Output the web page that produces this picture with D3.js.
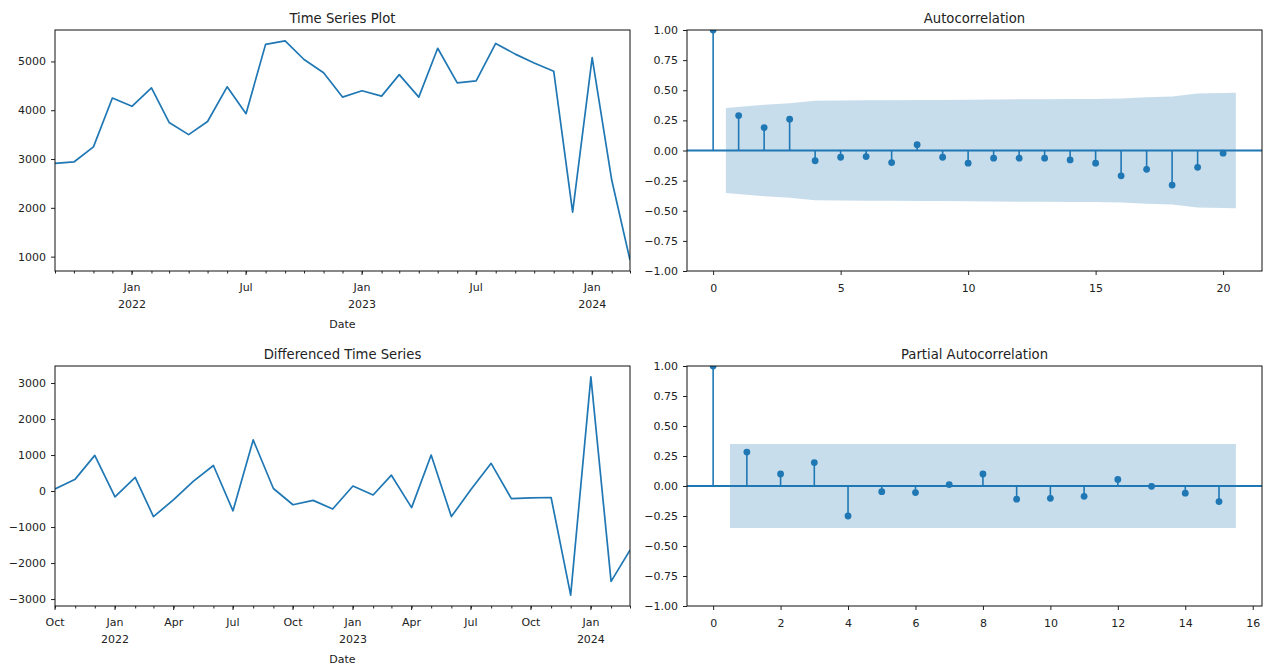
<!DOCTYPE html>
<html>
<head>
<meta charset="utf-8">
<title>Time Series Diagnostics</title>
<script src="https://d3js.org/d3.v7.min.js"></script>
<style>
  body { margin: 0; background: #fff; }
  svg text { font-family: "DejaVu Sans", sans-serif; fill: #222; }
</style>
</head>
<body>
<svg id="chart" width="1266" height="666"></svg>
<script>
// monthly observations, Sep 2021 .. Mar 2024
const months = [
  "2021-09", "2021-10", "2021-11", "2021-12",
  "2022-01", "2022-02", "2022-03", "2022-04", "2022-05", "2022-06",
  "2022-07", "2022-08", "2022-09", "2022-10", "2022-11", "2022-12",
  "2023-01", "2023-02", "2023-03", "2023-04", "2023-05", "2023-06",
  "2023-07", "2023-08", "2023-09", "2023-10", "2023-11", "2023-12",
  "2024-01", "2024-02", "2024-03"
];
const values = [
  2910, 2940, 3250, 4250,
  4080, 4460, 3750, 3500, 3770, 4480,
  3930, 5350, 5420, 5040, 4770, 4270,
  4400, 4290, 4730, 4270, 5270, 4560,
  4600, 5370, 5150, 4970, 4800, 1910,
  5080, 2570, 930
];

// first difference (starts Oct 2021)
const diffMonths = months.slice(1);
const diffValues = [
  60, 330, 990,
  -160, 380, -710, -240, 270, 710,
  -550, 1420, 70, -380, -260, -500,
  140, -110, 440, -460, 1000, -710,
  40, 770, -210, -190, -180, -2890,
  3170, -2510, -1640
];

// autocorrelation, lags 0..20, and confidence half-width for lags 1..20
const acfValues = [1, 0.29, 0.19, 0.26, -0.085, -0.056, -0.05, -0.10, 0.048, -0.056,
  -0.105, -0.064, -0.064, -0.064, -0.078, -0.105, -0.21, -0.156, -0.287, -0.14, -0.022];
const acfConf = [0.352, 0.38, 0.392, 0.413, 0.415, 0.416, 0.417, 0.42, 0.42, 0.421,
  0.423, 0.425, 0.426, 0.427, 0.428, 0.431, 0.441, 0.449, 0.474, 0.48];

// partial autocorrelation, lags 0..15
const pacfValues = [1, 0.283, 0.10, 0.195, -0.25, -0.047, -0.055, 0.012, 0.10, -0.11,
  -0.103, -0.086, 0.055, -0.003, -0.06, -0.13];
const pacfConf = [0.35, 0.35, 0.35, 0.35, 0.35, 0.35, 0.35, 0.35, 0.35, 0.35,
  0.35, 0.35, 0.35, 0.35, 0.35];

// tick labels
const seriesYTicks = [1000, 2000, 3000, 4000, 5000];
const seriesDateTicks = ["2022-01", "2022-07", "2023-01", "2023-07", "2024-01"];
const diffYTicks = [-3000, -2000, -1000, 0, 1000, 2000, 3000];
const diffDateTicks = ["2021-10", "2022-01", "2022-04", "2022-07", "2022-10",
  "2023-01", "2023-04", "2023-07", "2023-10", "2024-01"];
const corrYTicks = [-1, -0.75, -0.5, -0.25, 0, 0.25, 0.5, 0.75, 1];
const acfXTicks = [0, 5, 10, 15, 20];
const pacfXTicks = [0, 2, 4, 6, 8, 10, 12, 14, 16];

const svg = d3.select("#chart");
const blue = "#1f77b4";
const ink = "#222";
const parseMonth = d3.utcParse("%Y-%m");
const monthName = d3.utcFormat("%b");

const boxes = {
  tl: { left: 55, top: 30, right: 630, bottom: 271 },
  bl: { left: 55, top: 366, right: 630, bottom: 606 },
  tr: { left: 687, top: 30, right: 1262, bottom: 271 },
  br: { left: 687, top: 366, right: 1262, bottom: 606 }
};

function makePanel(id, box) {
  const g = svg.append("g");
  g.append("clipPath").attr("id", id).append("rect")
    .attr("x", box.left).attr("y", box.top)
    .attr("width", box.right - box.left).attr("height", box.bottom - box.top);
  const plot = g.append("g").attr("clip-path", `url(#${id})`);
  return { g, plot };
}

function finishPanel(g, box, titleText) {
  g.append("rect")
    .attr("x", box.left).attr("y", box.top)
    .attr("width", box.right - box.left).attr("height", box.bottom - box.top)
    .attr("fill", "none").attr("stroke", "#111").attr("stroke-width", 1);
  g.append("text")
    .attr("x", (box.left + box.right) / 2).attr("y", box.top - 7)
    .attr("text-anchor", "middle").attr("font-size", 13.2)
    .text(titleText);
}

function cleanAxis(sel) {
  sel.attr("font-family", null).attr("font-size", 11);
  sel.select(".domain").remove();
  sel.selectAll(".tick line").attr("stroke", ink);
  sel.selectAll(".tick text").attr("fill", ink);
}

function drawYAxis(g, box, y, ticks, fmt) {
  g.append("g")
    .attr("transform", `translate(${box.left},0)`)
    .call(d3.axisLeft(y).tickValues(ticks).tickFormat(fmt).tickSize(4).tickPadding(5))
    .call(cleanAxis);
}

function drawSeries(id, box, monthList, series, yTicks, dateTicks, titleText) {
  const dates = monthList.map(parseMonth);
  const { g, plot } = makePanel(id, box);
  const x = d3.scaleUtc().domain(d3.extent(dates)).range([box.left, box.right]);
  const [lo, hi] = d3.extent(series);
  const pad = (hi - lo) * 0.05;
  const y = d3.scaleLinear().domain([lo - pad, hi + pad]).range([box.bottom, box.top]);

  const line = d3.line().x((d, i) => x(dates[i])).y(d => y(d));
  plot.append("path").datum(series)
    .attr("d", line).attr("fill", "none")
    .attr("stroke", blue).attr("stroke-width", 1.7)
    .attr("stroke-linejoin", "round");

  drawYAxis(g, box, y, yTicks, d3.format("d"));

  // one small tick per month
  g.append("g")
    .attr("transform", `translate(0,${box.bottom})`)
    .call(d3.axisBottom(x).tickValues(dates).tickSize(2.5).tickFormat(""))
    .call(cleanAxis);

  // labelled ticks: month name, year under January
  const major = g.append("g").attr("font-size", 11).attr("text-anchor", "middle");
  dateTicks.map(parseMonth).forEach(d => {
    const px = x(d);
    major.append("line")
      .attr("x1", px).attr("x2", px)
      .attr("y1", box.bottom).attr("y2", box.bottom + 4)
      .attr("stroke", ink);
    major.append("text").attr("x", px).attr("y", box.bottom + 20).text(monthName(d));
    if (d.getUTCMonth() === 0) {
      major.append("text").attr("x", px).attr("y", box.bottom + 37).text(d.getUTCFullYear());
    }
  });

  g.append("text")
    .attr("x", (box.left + box.right) / 2).attr("y", box.bottom + 57)
    .attr("text-anchor", "middle").attr("font-size", 11)
    .text("Date");

  finishPanel(g, box, titleText);
}

function drawCorr(id, box, corr, conf, xTicks, titleText) {
  const { g, plot } = makePanel(id, box);
  const nLags = corr.length - 1;
  const lo = 0, hi = nLags + 0.5, pad = (hi - lo) * 0.05;
  const x = d3.scaleLinear().domain([lo - pad, hi + pad]).range([box.left, box.right]);
  const y = d3.scaleLinear().domain([-1, 1]).range([box.bottom, box.top]);

  // confidence band, widened half a lag at each end
  const band = conf.map((c, i) => ({ lag: i + 1, c }));
  band[0].lag -= 0.5;
  band[band.length - 1].lag += 0.5;
  plot.append("path").datum(band)
    .attr("d", d3.area().x(d => x(d.lag)).y0(d => y(-d.c)).y1(d => y(d.c)))
    .attr("fill", blue).attr("fill-opacity", 0.25);

  plot.append("line")
    .attr("x1", box.left).attr("x2", box.right)
    .attr("y1", y(0)).attr("y2", y(0))
    .attr("stroke", blue).attr("stroke-width", 2);

  plot.append("g").selectAll("line")
    .data(corr).join("line")
    .attr("x1", (d, i) => x(i)).attr("x2", (d, i) => x(i))
    .attr("y1", y(0)).attr("y2", d => y(d))
    .attr("stroke", blue).attr("stroke-width", 1.6);

  plot.append("g").selectAll("circle")
    .data(corr).join("circle")
    .attr("cx", (d, i) => x(i)).attr("cy", d => y(d))
    .attr("r", 3.4).attr("fill", blue);

  drawYAxis(g, box, y, corrYTicks, d3.format(".2f"));

  g.append("g")
    .attr("transform", `translate(0,${box.bottom})`)
    .call(d3.axisBottom(x).tickValues(xTicks).tickFormat(d3.format("d")).tickSize(4).tickPadding(9))
    .call(cleanAxis);

  finishPanel(g, box, titleText);
}

drawSeries("clip-tl", boxes.tl, months, values, seriesYTicks, seriesDateTicks, "Time Series Plot");
drawSeries("clip-bl", boxes.bl, diffMonths, diffValues, diffYTicks, diffDateTicks, "Differenced Time Series");
drawCorr("clip-tr", boxes.tr, acfValues, acfConf, acfXTicks, "Autocorrelation");
drawCorr("clip-br", boxes.br, pacfValues, pacfConf, pacfXTicks, "Partial Autocorrelation");
</script>
</body>
</html>
